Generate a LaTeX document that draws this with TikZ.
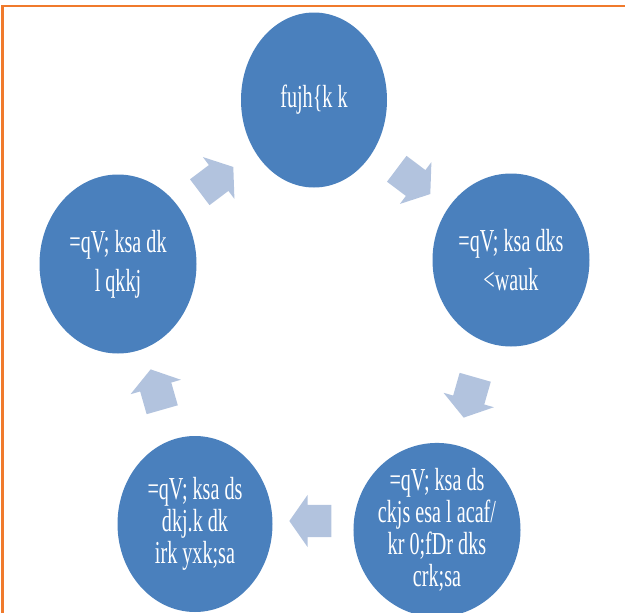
\documentclass[tikz,border=0pt]{standalone}
\usepackage{fontspec}
\setmainfont{Liberation Serif}
\newfontfamily\krutifont[FakeStretch=0.63]{Liberation Serif}
\usetikzlibrary{shapes.geometric,shapes.arrows}
\definecolor{CycleBlue}{RGB}{74,128,189}
\definecolor{CycleArrow}{RGB}{178,195,222}
\definecolor{FrameOrange}{RGB}{240,122,44}
\tikzset{
  stepdisc/.style={ellipse, fill=CycleBlue, draw=none, text=white, align=center,
                   font=\krutifont\fontsize{32}{32}\selectfont, inner sep=0pt},
  loosedisc/.style={stepdisc, font=\krutifont\fontsize{32}{39}\selectfont},
  % block arrows between the steps of the cycle
  cyclearrow/.style={single arrow, fill=CycleArrow, draw=none,
                   inner xsep=0pt, inner ysep=16pt,
                   minimum height=42pt, minimum width=52pt,
                   single arrow head extend=10pt, single arrow tip angle=110,
                   rotate=#1},
}

\begin{document}
\begin{tikzpicture}[x=1pt,y=-1pt]
  \useasboundingbox (0,0) rectangle (625,613);

  % --- frame --------------------------------------------------------------
  \draw[FrameOrange, line width=2.5pt] (2.5,640) |- (650,6);

  % --- the five steps -----------------------------------------------------
  \node[stepdisc, minimum width=146pt, minimum height=175pt] (nirikshan) at (314,100) {fujh\{k k};
  \node[loosedisc, minimum width=157pt, minimum height=173pt] (dhoondhna) at (511,260) {=qV; ksa dks\\<wauk};
  \node[stepdisc, minimum width=157pt, minimum height=172pt] (batayen)   at (437,530) {=qV; ksa ds\\ckjs esa l acaf/\\kr 0;fDr dks\\crk;sa};
  \node[stepdisc, minimum width=155pt, minimum height=176pt] (karan)     at (195,524) {=qV; ksa ds\\dkj.k dk\\irk yxk;sa};
  \node[loosedisc, minimum width=157pt, minimum height=179pt] (sudhar)    at (118,264) {=qV; ksa dk\\l qkkj};

  % --- arrows -------------------------------------------------------------
  \node[cyclearrow=-37]  (a1) at (409,178) {};
  \node[cyclearrow=-106] (a2) at (471,392) {};
  \node[cyclearrow=180]  (a3) at (316,521) {};
  \node[cyclearrow=106]  (a4) at (158,395) {};
  \node[cyclearrow=37]   (a5) at (212,183) {};

\end{tikzpicture}
\end{document}
